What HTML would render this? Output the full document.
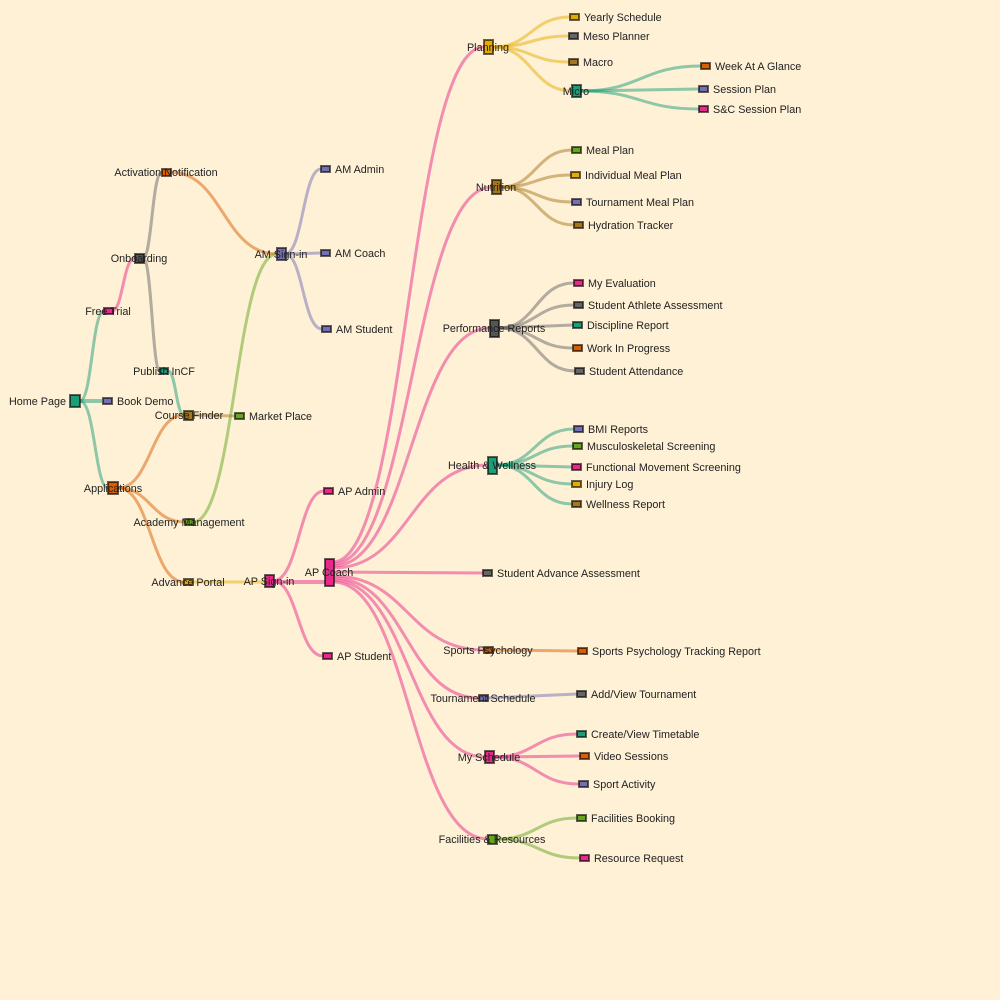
<!DOCTYPE html>
<html><head><meta charset="utf-8"><style>
html,body{margin:0;padding:0;background:#fef1d6;}
svg{display:block;font-family:"Liberation Sans",sans-serif;font-size:10.8px;}
text{fill:#222;}
.l{fill:none;stroke-width:3;stroke-opacity:.5;}
.t{stroke:#1b9e77}.p{stroke:#e7298a}.g{stroke:#666}.o{stroke:#d95f02}.b{stroke:#a6761d}.gr{stroke:#66a61e}.y{stroke:#e6ab02}.v{stroke:#7570b3}
rect{stroke-width:2;stroke:#000;stroke-opacity:.6;}
.m{text-anchor:middle}.e{text-anchor:end}
</style></head><body>
<svg width="1000" height="1000" viewBox="0 0 1000 1000">
<rect x="0" y="0" width="1000" height="1000" fill="#fef1d6" style="stroke:none"/>
<path class="l t" d="M80,401 C92,401 92,311 104,311"/>
<path class="l t" d="M80,401 L102,401" style="stroke-width:4"/>
<path class="l t" d="M80,401 C95,401 95,488 108,488"/>
<path class="l p" d="M112,311 C123,311 123,258 135,258"/>
<path class="l g" d="M143,258 C152,258 152,172 162,172"/>
<path class="l g" d="M143,258 C152,258 152,371 160,371"/>
<path class="l t" d="M168,371 C176,371 176,415 184,415"/>
<path class="l o" d="M118,488 C151,488 151,415 184,415"/>
<path class="l o" d="M118,488 C151,488 151,522 185,522"/>
<path class="l o" d="M118,488 C151,488 151,582 184,582"/>
<path class="l b" d="M192,415 L235,416"/>
<path class="l o" d="M170,172 C223,172 223,254 277,254"/>
<path class="l gr" d="M193,522 C235,522 235,254 277,254"/>
<path class="l y" d="M192,582 L265,582"/>
<path class="l v" d="M285,254 C303,254 303,169 321,169"/>
<path class="l v" d="M285,254 L321,253"/>
<path class="l v" d="M285,254 C303,254 303,329 322,329"/>
<path class="l p" d="M273,581 C299,581 299,491 324,491"/>
<path class="l p" d="M273,582 L325,582" style="stroke-width:4"/>
<path class="l p" d="M273,581 C298,581 298,656 323,656"/>
<path class="l p" d="M333,562 C408,562 408,47 484,47"/>
<path class="l p" d="M333,564 C412,564 412,187 492,187"/>
<path class="l p" d="M333,566 C411,566 411,328 490,328"/>
<path class="l p" d="M333,568 C410,568 410,465 488,465"/>
<path class="l p" d="M333,572 L483,573"/>
<path class="l p" d="M333,576 C408,576 408,650 484,650"/>
<path class="l p" d="M333,578 C406,578 406,698 479,698"/>
<path class="l p" d="M333,580 C409,580 409,757 485,757"/>
<path class="l p" d="M333,582 C410,582 410,839 488,839"/>
<path class="l y" d="M493,47 C531,47 531,17 570,17"/>
<path class="l y" d="M493,47 C531,47 531,36 569,36"/>
<path class="l y" d="M493,47 C531,47 531,62 569,62"/>
<path class="l y" d="M493,47 C532,47 532,91 572,91"/>
<path class="l t" d="M581,91 C641,91 641,66 701,66"/>
<path class="l t" d="M581,91 L699,89"/>
<path class="l t" d="M581,91 C640,91 640,109 699,109"/>
<path class="l b" d="M501,187 C536,187 536,150 572,150"/>
<path class="l b" d="M501,187 C536,187 536,175 571,175"/>
<path class="l b" d="M501,187 C536,187 536,202 572,202"/>
<path class="l b" d="M501,187 C537,187 537,225 574,225"/>
<path class="l g" d="M499,328 C536,328 536,283 574,283"/>
<path class="l g" d="M499,328 C536,328 536,305 574,305"/>
<path class="l g" d="M499,328 L573,325"/>
<path class="l g" d="M499,328 C536,328 536,348 573,348"/>
<path class="l g" d="M499,328 C537,328 537,371 575,371"/>
<path class="l t" d="M497,465 C535,465 535,429 574,429"/>
<path class="l t" d="M497,465 C535,465 535,446 573,446"/>
<path class="l t" d="M497,465 L572,467"/>
<path class="l t" d="M497,465 C534,465 534,484 572,484"/>
<path class="l t" d="M497,465 C534,465 534,504 572,504"/>
<path class="l o" d="M493,650 L578,651"/>
<path class="l v" d="M488,698 L577,694"/>
<path class="l p" d="M494,757 C535,757 535,734 577,734"/>
<path class="l p" d="M494,757 L580,756"/>
<path class="l p" d="M494,757 C536,757 536,784 579,784"/>
<path class="l gr" d="M497,839 C537,839 537,818 577,818"/>
<path class="l gr" d="M497,839 C538,839 538,858 580,858"/>
<g>
<rect x="70" y="395" width="10" height="12" fill="#1b9e77"/>
<rect x="103" y="398" width="9" height="6" fill="#7570b3"/>
<rect x="104" y="308" width="9" height="6" fill="#e7298a"/>
<rect x="135" y="254" width="9" height="9" fill="#555"/>
<rect x="108" y="482" width="10" height="12" fill="#d95f02"/>
<rect x="162" y="169" width="9" height="7" fill="#d95f02"/>
<rect x="160" y="368" width="8" height="6" fill="#1b9e77"/>
<rect x="184" y="411" width="9" height="9" fill="#a6761d"/>
<rect x="185" y="519" width="9" height="6" fill="#66a61e"/>
<rect x="184" y="579" width="9" height="6" fill="#e6ab02"/>
<rect x="235" y="413" width="9" height="6" fill="#66a61e"/>
<rect x="277" y="248" width="9" height="12" fill="#7570b3"/>
<rect x="321" y="166" width="9" height="6" fill="#7570b3"/>
<rect x="321" y="250" width="9" height="6" fill="#7570b3"/>
<rect x="322" y="326" width="9" height="6" fill="#7570b3"/>
<rect x="265" y="575" width="9" height="12" fill="#e7298a"/>
<rect x="324" y="488" width="9" height="6" fill="#e7298a"/>
<rect x="323" y="653" width="9" height="6" fill="#e7298a"/>
<rect x="325" y="559" width="9" height="27" fill="#e7298a"/>
<rect x="484" y="40" width="9" height="14" fill="#e6ab02"/>
<rect x="570" y="14" width="9" height="6" fill="#e6ab02"/>
<rect x="569" y="33" width="9" height="6" fill="#666"/>
<rect x="569" y="59" width="9" height="6" fill="#a6761d"/>
<rect x="572" y="85" width="9" height="12" fill="#1b9e77"/>
<rect x="701" y="63" width="9" height="6" fill="#d95f02"/>
<rect x="699" y="86" width="9" height="6" fill="#7570b3"/>
<rect x="699" y="106" width="9" height="6" fill="#e7298a"/>
<rect x="492" y="180" width="9" height="14" fill="#a6761d"/>
<rect x="572" y="147" width="9" height="6" fill="#66a61e"/>
<rect x="571" y="172" width="9" height="6" fill="#e6ab02"/>
<rect x="572" y="199" width="9" height="6" fill="#7570b3"/>
<rect x="574" y="222" width="9" height="6" fill="#a6761d"/>
<rect x="490" y="320" width="9" height="17" fill="#555"/>
<rect x="574" y="280" width="9" height="6" fill="#e7298a"/>
<rect x="574" y="302" width="9" height="6" fill="#666"/>
<rect x="573" y="322" width="9" height="6" fill="#1b9e77"/>
<rect x="573" y="345" width="9" height="6" fill="#d95f02"/>
<rect x="575" y="368" width="9" height="6" fill="#666"/>
<rect x="488" y="457" width="9" height="17" fill="#1b9e77"/>
<rect x="574" y="426" width="9" height="6" fill="#7570b3"/>
<rect x="573" y="443" width="9" height="6" fill="#66a61e"/>
<rect x="572" y="464" width="9" height="6" fill="#e7298a"/>
<rect x="572" y="481" width="9" height="6" fill="#e6ab02"/>
<rect x="572" y="501" width="9" height="6" fill="#a6761d"/>
<rect x="483" y="570" width="9" height="6" fill="#666"/>
<rect x="484" y="647" width="9" height="6" fill="#d95f02"/>
<rect x="578" y="648" width="9" height="6" fill="#d95f02"/>
<rect x="479" y="695" width="9" height="6" fill="#7570b3"/>
<rect x="577" y="691" width="9" height="6" fill="#666"/>
<rect x="485" y="751" width="9" height="12" fill="#e7298a"/>
<rect x="577" y="731" width="9" height="6" fill="#1b9e77"/>
<rect x="580" y="753" width="9" height="6" fill="#d95f02"/>
<rect x="579" y="781" width="9" height="6" fill="#7570b3"/>
<rect x="488" y="835" width="9" height="9" fill="#66a61e"/>
<rect x="577" y="815" width="9" height="6" fill="#66a61e"/>
<rect x="580" y="855" width="9" height="6" fill="#e7298a"/>
</g>
<text x="66" y="405" class="e">Home Page</text>
<text x="117" y="405">Book Demo</text>
<text x="108" y="315" class="m">Free Trial</text>
<text x="139" y="262" class="m">Onboarding</text>
<text x="113" y="492" class="m">Applications</text>
<text x="166" y="176" class="m">Activation Notification</text>
<text x="164" y="375" class="m">Publish InCF</text>
<text x="189" y="419" class="m">Course Finder</text>
<text x="189" y="526" class="m">Academy Management</text>
<text x="188" y="586" class="m">Advance Portal</text>
<text x="249" y="420">Market Place</text>
<text x="281" y="258" class="m">AM Sign-in</text>
<text x="335" y="173">AM Admin</text>
<text x="335" y="257">AM Coach</text>
<text x="336" y="333">AM Student</text>
<text x="269" y="585" class="m">AP Sign-in</text>
<text x="338" y="495">AP Admin</text>
<text x="337" y="660">AP Student</text>
<text x="329" y="576" class="m">AP Coach</text>
<text x="488" y="51" class="m">Planning</text>
<text x="584" y="21">Yearly Schedule</text>
<text x="583" y="40">Meso Planner</text>
<text x="583" y="66">Macro</text>
<text x="576" y="95" class="m">Micro</text>
<text x="715" y="70">Week At A Glance</text>
<text x="713" y="93">Session Plan</text>
<text x="713" y="113">S&amp;C Session Plan</text>
<text x="496" y="191" class="m">Nutrition</text>
<text x="586" y="154">Meal Plan</text>
<text x="585" y="179">Individual Meal Plan</text>
<text x="586" y="206">Tournament Meal Plan</text>
<text x="588" y="229">Hydration Tracker</text>
<text x="494" y="332" class="m">Performance Reports</text>
<text x="588" y="287">My Evaluation</text>
<text x="588" y="309">Student Athlete Assessment</text>
<text x="587" y="329">Discipline Report</text>
<text x="587" y="352">Work In Progress</text>
<text x="589" y="375">Student Attendance</text>
<text x="492" y="469" class="m">Health &amp; Wellness</text>
<text x="588" y="433">BMI Reports</text>
<text x="587" y="450">Musculoskeletal Screening</text>
<text x="586" y="471">Functional Movement Screening</text>
<text x="586" y="488">Injury Log</text>
<text x="586" y="508">Wellness Report</text>
<text x="497" y="577">Student Advance Assessment</text>
<text x="488" y="654" class="m">Sports Psychology</text>
<text x="592" y="655">Sports Psychology Tracking Report</text>
<text x="483" y="702" class="m">Tournament Schedule</text>
<text x="591" y="698">Add/View Tournament</text>
<text x="489" y="761" class="m">My Schedule</text>
<text x="591" y="738">Create/View Timetable</text>
<text x="594" y="760">Video Sessions</text>
<text x="593" y="788">Sport Activity</text>
<text x="492" y="843" class="m">Facilities &amp; Resources</text>
<text x="591" y="822">Facilities Booking</text>
<text x="594" y="862">Resource Request</text>
</svg>
</body></html>
